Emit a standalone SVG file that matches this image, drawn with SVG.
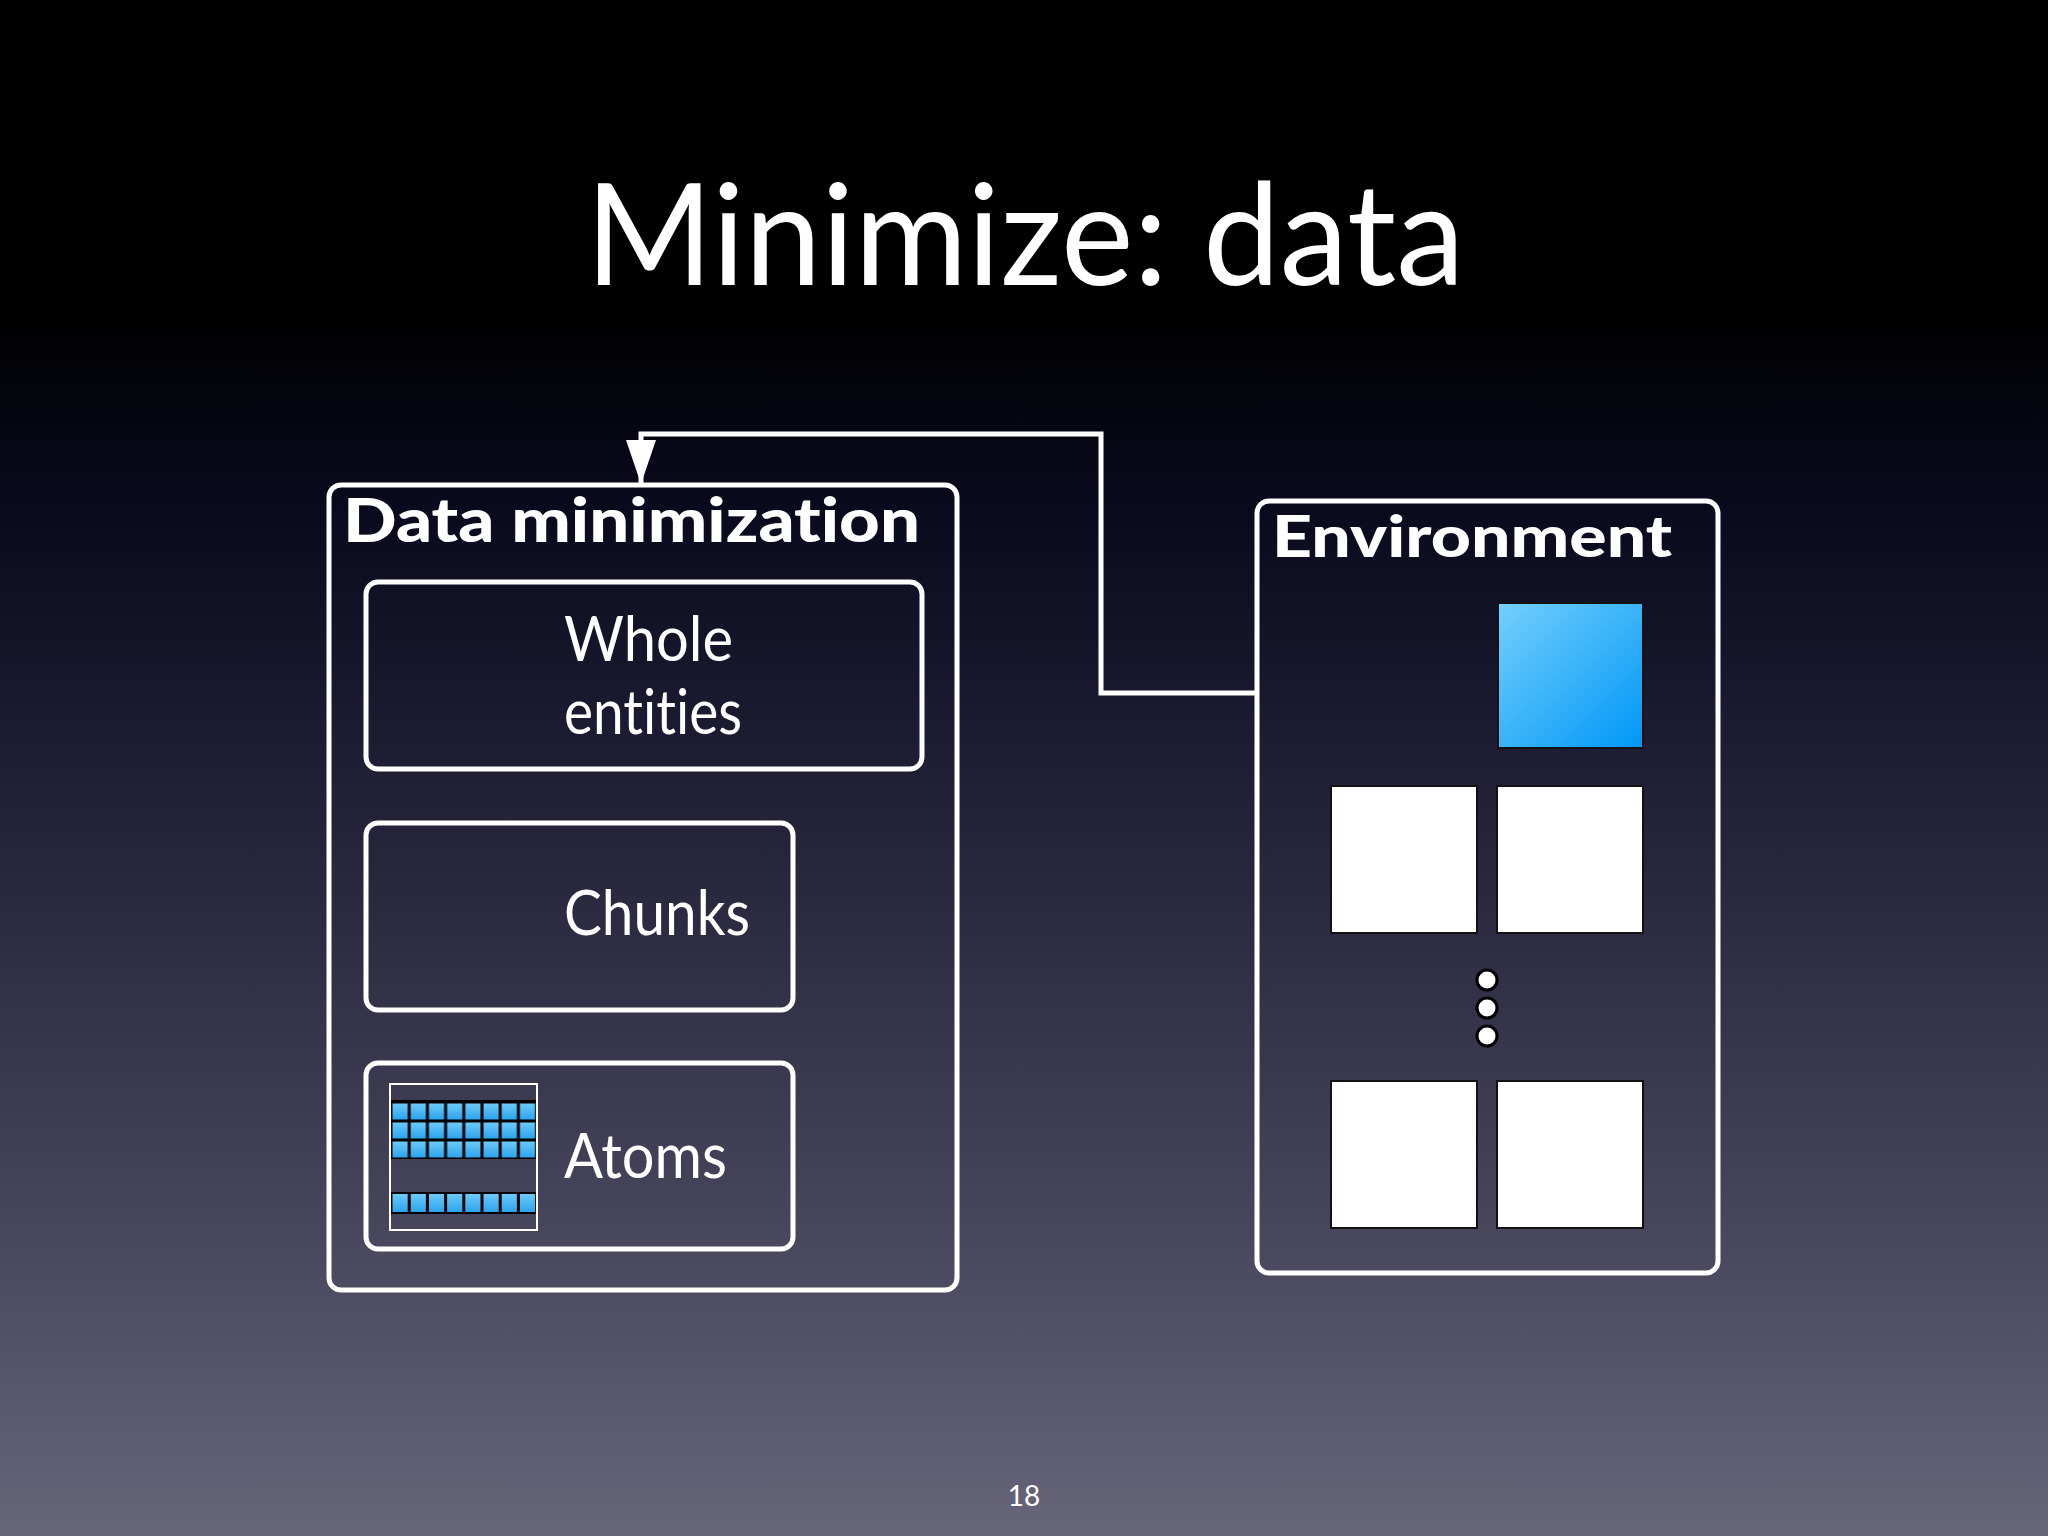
<svg xmlns="http://www.w3.org/2000/svg" width="2048" height="1536" viewBox="0 0 2048 1536">
<defs>
<linearGradient id="bg" x1="0" y1="0" x2="0" y2="1">
<stop offset="0" stop-color="#000000"/>
<stop offset="0.2" stop-color="#000000"/>
<stop offset="0.33" stop-color="#0a0a1e"/>
<stop offset="0.55" stop-color="#25243b"/>
<stop offset="0.8" stop-color="#48465d"/>
<stop offset="1" stop-color="#67657a"/>
</linearGradient>
<linearGradient id="blue" x1="0" y1="0" x2="1" y2="1">
<stop offset="0" stop-color="#74cffc"/>
<stop offset="1" stop-color="#0097f6"/>
</linearGradient>
<linearGradient id="cell" x1="0" y1="0" x2="0" y2="1">
<stop offset="0" stop-color="#6ccaf8"/>
<stop offset="1" stop-color="#2ca4ee"/>
</linearGradient>
<pattern id="cells" x="391" y="0" width="18.2" height="19" patternUnits="userSpaceOnUse">
<rect x="0" y="0" width="18.2" height="19" fill="#000"/>
<rect x="1.5" y="1.5" width="15.2" height="16" fill="url(#cell)"/>
</pattern>
<marker id="arrow" viewBox="0 0 44 30" refX="44" refY="15" markerWidth="44" markerHeight="30" markerUnits="userSpaceOnUse" orient="auto">
<path d="M0,0 L44,15 L0,30 z" fill="#fff"/>
</marker>
<style>
text{font-variant-ligatures:none;font-feature-settings:"liga" 0}
.box{fill:none;stroke:#fff;stroke-width:5}
.hdr{font-family:Lato,"Open Sans","DejaVu Sans",sans-serif;font-weight:900;fill:#fff}
.lbl{font-family:Lato,"Open Sans","DejaVu Sans",sans-serif;fill:#fff;font-size:62px}
.sq{fill:#fff;stroke:#111;stroke-width:2}
.dot{fill:#fff;stroke:#000;stroke-width:3}
.conn{fill:none;stroke:#fff;stroke-width:5}
</style>
</defs>
<rect x="0" y="0" width="2048" height="1536" fill="url(#bg)"/>
<text x="1025" y="285" text-anchor="middle" font-family="Lato,'Open Sans','DejaVu Sans',sans-serif" font-size="142" fill="#fff" textLength="879" lengthAdjust="spacingAndGlyphs">Minimize: data</text>

<g id="connectors">
<path class="conn" d="M1256,693 H1101 V434 H641 V484" marker-end="url(#arrow)"/>
</g>

<g id="data-minimization">
<rect class="box" x="329" y="485" width="628" height="805" rx="12"/>
<text class="hdr" x="343" y="542" font-size="60" textLength="577" lengthAdjust="spacingAndGlyphs">Data minimization</text>
</g>

<g id="whole-entities">
<rect class="box" x="366" y="582" width="556" height="187" rx="12"/>
<text class="lbl" x="564" y="661" textLength="169" lengthAdjust="spacingAndGlyphs">Whole</text>
<text class="lbl" x="564" y="734" textLength="178" lengthAdjust="spacingAndGlyphs">entities</text>
</g>

<g id="chunks">
<rect class="box" x="366" y="823" width="427" height="187" rx="12"/>
<text class="lbl" x="564" y="935" textLength="186" lengthAdjust="spacingAndGlyphs">Chunks</text>
</g>

<g id="atoms">
<rect class="box" x="366" y="1063" width="427" height="186" rx="12"/>
<rect x="390" y="1084" width="147" height="146" fill="none" stroke="#fff" stroke-width="2"/>
<rect x="391" y="1100" width="145" height="59" fill="#000"/>
<rect x="391" y="1101" width="145" height="57" fill="url(#cells)"/>
<rect x="391" y="1192" width="145" height="22" fill="#000"/>
<g fill="url(#cell)">
<rect x="392.5" y="1194" width="15.2" height="18"/>
<rect x="410.7" y="1194" width="15.2" height="18"/>
<rect x="428.9" y="1194" width="15.2" height="18"/>
<rect x="447.1" y="1194" width="15.2" height="18"/>
<rect x="465.3" y="1194" width="15.2" height="18"/>
<rect x="483.5" y="1194" width="15.2" height="18"/>
<rect x="501.7" y="1194" width="15.2" height="18"/>
<rect x="519.9" y="1194" width="15.2" height="18"/>
</g>
<text class="lbl" x="564" y="1178" textLength="163" lengthAdjust="spacingAndGlyphs">Atoms</text>
</g>

<g id="environment">
<rect class="box" x="1257" y="501" width="461" height="772" rx="12"/>
<text class="hdr" x="1272" y="557" font-size="58" textLength="400" lengthAdjust="spacingAndGlyphs">Environment</text>
<rect x="1498" y="603" width="145" height="145" fill="url(#blue)" stroke="#111" stroke-width="2"/>
<rect class="sq" x="1331" y="786" width="146" height="147"/>
<rect class="sq" x="1497" y="786" width="146" height="147"/>
<circle class="dot" cx="1487" cy="980" r="10"/>
<circle class="dot" cx="1487" cy="1008" r="10"/>
<circle class="dot" cx="1487" cy="1036" r="10"/>
<rect class="sq" x="1331" y="1081" width="146" height="147"/>
<rect class="sq" x="1497" y="1081" width="146" height="147"/>
</g>

<text x="1024" y="1506" text-anchor="middle" font-family="Lato,'Open Sans','DejaVu Sans',sans-serif" font-size="28" fill="#fff">18</text>
</svg>
